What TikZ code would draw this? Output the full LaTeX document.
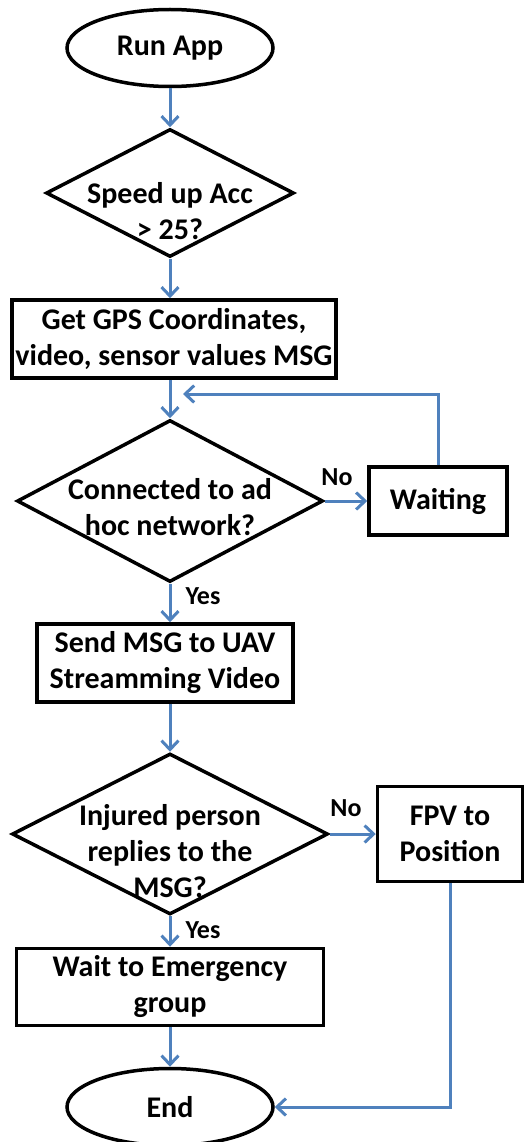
\documentclass[tikz,border=0pt]{standalone}
\usepackage{fontspec}
\setmainfont{Carlito}
\usepackage{tikz}
\usetikzlibrary{shapes.geometric}
\usetikzlibrary{arrows.meta}
\definecolor{flowblue}{RGB}{79,129,189}

\begin{document}
\begin{tikzpicture}[x=1pt, y=-1pt,
        font=\bfseries\fontsize{30}{36}\selectfont,
        box/.style={draw, line width=3.5pt, rectangle, align=center, inner sep=0pt},
        term/.style={draw, line width=3.5pt, ellipse, inner sep=0pt, minimum width=206pt, minimum height=77pt},
        decision/.style={draw, line width=3.5pt, diamond, inner sep=0pt},
        flow/.style={draw=flowblue, line width=3pt, -{Straight Barb[length=9pt, width=17pt]}},
        yn/.style={font=\bfseries\fontsize{26}{30}\selectfont}]
            \useasboundingbox (0, 0) rectangle (525, 1142);
            \node [term] (run) at (170, 48) {Run App};
            \node [decision, minimum width=248pt, minimum height=128pt] (acc) at (170, 193) {};
            \node [align=center] (acctxt) at (170, 211) {Speed up Acc\\> 25?};
            \node [box, minimum width=324pt, minimum height=78pt] (gps) at (174, 339) {Get GPS Coordinates,\\video, sensor values MSG};
            \node [decision, minimum width=306pt, minimum height=162pt] (net) at (170, 501) {};
            \node [align=center] (nettxt) at (170, 507) {Connected to ad\\hoc network?};
            \node [box, minimum width=138pt, minimum height=68pt] (wait) at (438, 501) {Waiting};
            \node [box, minimum width=256pt, minimum height=78pt] (uav) at (165, 663) {Send MSG to UAV\\Streamming Video};
            \node [decision, minimum width=316pt, minimum height=161pt] (reply) at (170, 834) {};
            \node [align=center] (replytxt) at (170, 851) {Injured person\\replies to the\\MSG?};
            \node [box, minimum width=145pt, minimum height=95pt] (fpv) at (450, 834) {FPV to\\Position};
            \node [box, minimum width=307pt, minimum height=77pt] (grp) at (170, 987) {Wait to Emergency\\group};
            \node [term] (end) at (170, 1107) {End};
            \coordinate (back) at (183, 394);
            \draw [flow] (run.south) -- (acc.north);
            \draw [flow] (acc.south) -- (acc.south |- gps.north);
            \draw [flow] (net.north |- gps.south) -- (net.north);
            \draw [flow] (net.east) -- (wait.west);
            \draw [flow] (wait.north) |- (back);
            \draw [flow] (net.south) -- (net.south |- uav.north);
            \draw [flow] (reply.north |- uav.south) -- (reply.north);
            \draw [flow] (reply.east) -- (fpv.west);
            \draw [flow] (reply.south) -- (reply.south |- grp.north);
            \draw [flow] (grp.south) -- (end.north);
            \draw [flow] (fpv.south) |- (end.east);
            \node [yn] (no1) at (337, 477) {No};
            \node [yn] (yes1) at (203, 596) {Yes};
            \node [yn] (no2) at (346, 808) {No};
            \node [yn] (yes2) at (203, 930) {Yes};
        \end{tikzpicture}
\end{document}
